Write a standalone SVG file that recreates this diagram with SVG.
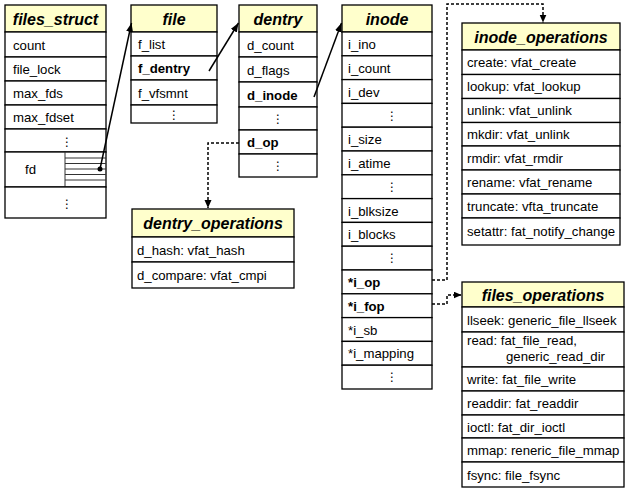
<svg xmlns="http://www.w3.org/2000/svg" width="626" height="501" viewBox="0 0 626 501">
<style>
.hd{fill:#FFFFCC;stroke:#000;stroke-width:1.3}
.rw{fill:#fff;stroke:#000;stroke-width:1.3}
.ht{font-family:"Liberation Sans",Arial,sans-serif;font-style:italic;font-weight:bold;font-size:16px;text-anchor:middle}
.t{font-family:"Liberation Sans",Arial,sans-serif;font-size:13.2px}
.b{font-weight:bold}
.d{font-family:"DejaVu Sans",sans-serif;font-size:12px;text-anchor:middle}
.grid{stroke:#333;stroke-width:1}
.ln{stroke:#000;stroke-width:1.5;fill:none}
.dl{stroke:#000;stroke-width:1.5;fill:none;stroke-dasharray:3 2}
</style>
<defs>
<marker id="ah" markerUnits="userSpaceOnUse" markerWidth="10" markerHeight="8" refX="9" refY="3.5" orient="auto"><path d="M0,0 L9,3.5 L0,7 z" fill="#000"/></marker>
<marker id="ahd" markerUnits="userSpaceOnUse" markerWidth="9" markerHeight="8" refX="8" refY="3.5" orient="auto"><path d="M0,0 L8,3.5 L0,7 z" fill="#000"/></marker>
</defs>

<g id="files_struct">
<rect class="hd" x="5" y="5" width="101" height="27"/>
<text class="ht" x="55.5" y="25">files_struct</text>
<rect class="rw" x="5" y="32" width="101" height="25"/>
<text class="t" x="13" y="49.5">count</text>
<rect class="rw" x="5" y="57" width="101" height="24"/>
<text class="t" x="13" y="74">file_lock</text>
<rect class="rw" x="5" y="81" width="101" height="24"/>
<text class="t" x="13" y="98">max_fds</text>
<rect class="rw" x="5" y="105" width="101" height="24"/>
<text class="t" x="13" y="122">max_fdset</text>
<rect class="rw" x="5" y="129" width="101" height="23"/>
<text class="d" x="67" y="145.5">⋮</text>
<rect class="rw" x="5" y="152" width="101" height="35"/>
<text class="t" x="25" y="174">fd</text>
<line class="grid" x1="65" y1="152" x2="65" y2="187"/>
<line class="grid" x1="65" y1="158" x2="106" y2="158"/>
<line class="grid" x1="65" y1="163.5" x2="106" y2="163.5"/>
<line class="grid" x1="65" y1="169" x2="106" y2="169"/>
<line class="grid" x1="65" y1="174.5" x2="106" y2="174.5"/>
<line class="grid" x1="65" y1="180" x2="106" y2="180"/>
<rect class="rw" x="5" y="187" width="101" height="31"/>
<text class="d" x="67" y="207.5">⋮</text>
</g>

<g id="file">
<rect class="hd" x="131" y="5" width="86" height="27"/>
<text class="ht" x="174" y="25">file</text>
<rect class="rw" x="131" y="32" width="86" height="24"/>
<text class="t" x="138" y="49">f_list</text>
<rect class="rw" x="131" y="56" width="86" height="24"/>
<text class="t b" x="138" y="73">f_dentry</text>
<rect class="rw" x="131" y="80" width="86" height="25"/>
<text class="t" x="138" y="97.5">f_vfsmnt</text>
<rect class="rw" x="131" y="105" width="86" height="18"/>
<text class="d" x="174" y="118.5">⋮</text>
</g>

<g id="dentry">
<rect class="hd" x="239" y="5" width="78" height="27"/>
<text class="ht" x="278" y="25">dentry</text>
<rect class="rw" x="239" y="32" width="78" height="25"/>
<text class="t" x="247" y="49.5">d_count</text>
<rect class="rw" x="239" y="57" width="78" height="25"/>
<text class="t" x="247" y="74.5">d_flags</text>
<rect class="rw" x="239" y="82" width="78" height="25"/>
<text class="t b" x="247" y="99.5">d_inode</text>
<rect class="rw" x="239" y="107" width="78" height="23"/>
<text class="d" x="278" y="123">⋮</text>
<rect class="rw" x="239" y="130" width="78" height="24"/>
<text class="t b" x="247" y="147">d_op</text>
<rect class="rw" x="239" y="154" width="78" height="23"/>
<text class="d" x="278" y="170">⋮</text>
</g>

<g id="inode">
<rect class="hd" x="342" y="5" width="90" height="27"/>
<text class="ht" x="387" y="25">inode</text>
<rect class="rw" x="342" y="32" width="90" height="23.8"/>
<text class="t" x="348" y="48.9">i_ino</text>
<rect class="rw" x="342" y="55.8" width="90" height="23.8"/>
<text class="t" x="348" y="72.7">i_count</text>
<rect class="rw" x="342" y="79.6" width="90" height="23.8"/>
<text class="t" x="348" y="96.5">i_dev</text>
<rect class="rw" x="342" y="103.4" width="90" height="23.8"/>
<text class="d" x="392" y="119.5">⋮</text>
<rect class="rw" x="342" y="127.2" width="90" height="23.8"/>
<text class="t" x="348" y="144.1">i_size</text>
<rect class="rw" x="342" y="151" width="90" height="23.8"/>
<text class="t" x="348" y="167.9">i_atime</text>
<rect class="rw" x="342" y="174.8" width="90" height="23.8"/>
<text class="d" x="392" y="190.9">⋮</text>
<rect class="rw" x="342" y="198.6" width="90" height="23.8"/>
<text class="t" x="348" y="215.5">i_blksize</text>
<rect class="rw" x="342" y="222.4" width="90" height="23.8"/>
<text class="t" x="348" y="239.3">i_blocks</text>
<rect class="rw" x="342" y="246.2" width="90" height="23.8"/>
<text class="d" x="392" y="262.3">⋮</text>
<rect class="rw" x="342" y="270" width="90" height="23.8"/>
<text class="t b" x="348" y="286.9">*i_op</text>
<rect class="rw" x="342" y="293.8" width="90" height="23.8"/>
<text class="t b" x="348" y="310.7">*i_fop</text>
<rect class="rw" x="342" y="317.6" width="90" height="23.8"/>
<text class="t" x="348" y="334.5">*i_sb</text>
<rect class="rw" x="342" y="341.4" width="90" height="23.8"/>
<text class="t" x="348" y="358.3">*i_mapping</text>
<rect class="rw" x="342" y="365.2" width="90" height="23.8"/>
<text class="d" x="392" y="381.3">⋮</text>
</g>

<g id="inode_operations">
<rect class="hd" x="462" y="23" width="158" height="27"/>
<text class="ht" x="541" y="42.5">inode_operations</text>
<rect class="rw" x="462" y="50" width="158" height="24.5"/>
<text class="t" x="467" y="67">create: vfat_create</text>
<rect class="rw" x="462" y="74.5" width="158" height="24"/>
<text class="t" x="467" y="91.3">lookup: vfat_lookup</text>
<rect class="rw" x="462" y="98.5" width="158" height="24"/>
<text class="t" x="467" y="115.3">unlink: vfat_unlink</text>
<rect class="rw" x="462" y="122.5" width="158" height="23.5"/>
<text class="t" x="467" y="139">mkdir: vfat_unlink</text>
<rect class="rw" x="462" y="146" width="158" height="24"/>
<text class="t" x="467" y="162.8">rmdir: vfat_rmdir</text>
<rect class="rw" x="462" y="170" width="158" height="24"/>
<text class="t" x="467" y="186.8">rename: vfat_rename</text>
<rect class="rw" x="462" y="194" width="158" height="24"/>
<text class="t" x="467" y="210.8">truncate: vfta_truncate</text>
<rect class="rw" x="462" y="218" width="158" height="27"/>
<text class="t" x="467" y="236.3">setattr: fat_notify_change</text>
</g>

<g id="dentry_operations">
<rect class="hd" x="132" y="209" width="162" height="28"/>
<text class="ht" x="213" y="229">dentry_operations</text>
<rect class="rw" x="132" y="237" width="162" height="25"/>
<text class="t" x="137" y="254.5">d_hash: vfat_hash</text>
<rect class="rw" x="132" y="262" width="162" height="26"/>
<text class="t" x="137" y="280">d_compare: vfat_cmpi</text>
</g>

<g id="files_operations">
<rect class="hd" x="462" y="282" width="162" height="25"/>
<text class="ht" x="543" y="300.5">files_operations</text>
<rect class="rw" x="462" y="307" width="162" height="25"/>
<text class="t" x="467" y="324.5">llseek: generic_file_llseek</text>
<rect class="rw" x="462" y="332" width="162" height="35"/>
<text class="t" x="467" y="344.5">read: fat_file_read,</text>
<text class="t" x="506" y="360.5">generic_read_dir</text>
<rect class="rw" x="462" y="367" width="162" height="24"/>
<text class="t" x="467" y="384">write: fat_file_write</text>
<rect class="rw" x="462" y="391" width="162" height="24"/>
<text class="t" x="467" y="408">readdir: fat_readdir</text>
<rect class="rw" x="462" y="415" width="162" height="23"/>
<text class="t" x="467" y="431.5">ioctl: fat_dir_ioctl</text>
<rect class="rw" x="462" y="438" width="162" height="24"/>
<text class="t" x="467" y="455">mmap: reneric_file_mmap</text>
<rect class="rw" x="462" y="462" width="162" height="25"/>
<text class="t" x="467" y="479.5">fsync: file_fsync</text>
</g>

<g id="connectors">
<circle cx="100" cy="169" r="2.5" fill="#000"/>
<line class="ln" x1="100" y1="169" x2="131.5" y2="23" marker-end="url(#ah)"/>
<line class="ln" x1="209" y1="71" x2="238.5" y2="23" marker-end="url(#ah)"/>
<line class="ln" x1="314" y1="97" x2="341.5" y2="23" marker-end="url(#ah)"/>
<path class="dl" d="M239,143 H208 V208" marker-end="url(#ahd)"/>
<path class="dl" d="M432,280 H447 V4 H543 V22.5" marker-end="url(#ahd)"/>
<path class="dl" d="M432,304 H447 V295 H461.5" marker-end="url(#ahd)"/>
</g>
</svg>
